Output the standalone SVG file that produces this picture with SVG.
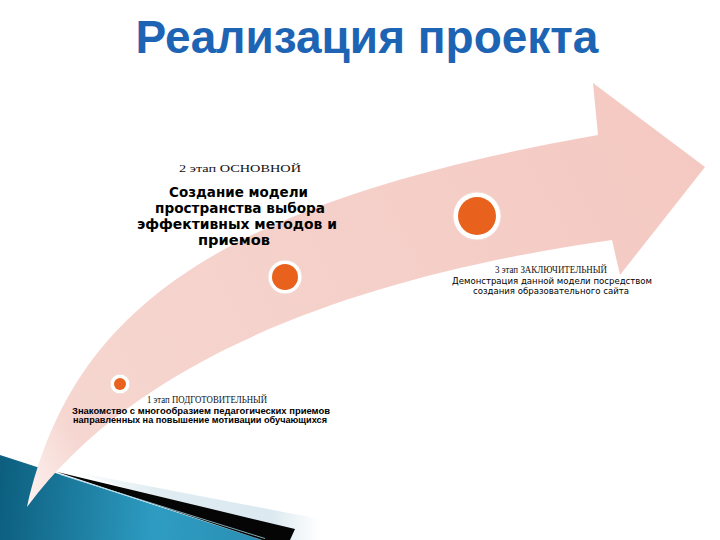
<svg xmlns="http://www.w3.org/2000/svg" width="720" height="540" viewBox="0 0 720 540">
  <defs>
    <linearGradient id="pinkGrad" x1="27" y1="507" x2="700" y2="150" gradientUnits="userSpaceOnUse">
      <stop offset="0" stop-color="#fdf3f1"/>
      <stop offset="0.1" stop-color="#f6d6d0"/>
      <stop offset="1" stop-color="#f4c9c2"/>
    </linearGradient>
    <linearGradient id="tealGrad" x1="0" y1="500" x2="260" y2="520" gradientUnits="userSpaceOnUse">
      <stop offset="0" stop-color="#0c5f7f"/>
      <stop offset="0.6" stop-color="#2e9cc2"/>
      <stop offset="1" stop-color="#2b8fb4"/>
    </linearGradient>
    <linearGradient id="lightGrad" x1="70" y1="0" x2="320" y2="0" gradientUnits="userSpaceOnUse">
      <stop offset="0" stop-color="#ffffff"/>
      <stop offset="0.35" stop-color="#e0ecf2"/>
      <stop offset="0.8" stop-color="#dbe9f0"/>
      <stop offset="1" stop-color="#ffffff"/>
    </linearGradient>
  </defs>
  <style>
    .title { font-family: "Liberation Sans", Arial, sans-serif; font-weight: bold; font-size: 46px; fill: #1d64b4; }
    .stage { font-family: "Liberation Serif", "Times New Roman", serif; fill: #111; }
    .bold { font-family: "DejaVu Sans", Verdana, sans-serif; font-weight: bold; font-size: 14px; fill: #000; }
    .plain { font-family: "DejaVu Sans", Verdana, sans-serif; fill: #000; }
    .bsans { font-family: "Liberation Sans", Arial, sans-serif; font-weight: bold; fill: #000; }
    .ring { fill: #ffffff; stroke: #f3d9cf; stroke-width: 1; }
    .dot { fill: #e8621d; }
  </style>
  <rect width="720" height="540" fill="#ffffff"/>

  <!-- bottom-left decoration -->
  <g id="decor">
    <polygon points="0,455 262,540 0,540" fill="url(#tealGrad)"/>
    <polygon points="75,472 320,519 320,540 290,540" fill="url(#lightGrad)"/>
    <polygon points="45,468 53,471 295,529 290,540 262,540" fill="#050505"/>
    <line x1="60" y1="474.5" x2="265" y2="538.5" stroke="#9fd3e4" stroke-width="0.8"/>
  </g>

  <!-- big curved arrow -->
  <g id="connectors">
    <path d="M27,507 C70,320 200,205 598,135 L593,83 L705,167 L620,275 L612,240 C400,270 150,340 27,507 Z" fill="url(#pinkGrad)"/>
  </g>

  <g id="title">
    <text class="title" x="367" y="53" text-anchor="middle">Реализация проекта</text>
  </g>

  <g id="stage1">
    <circle class="ring" cx="120" cy="384" r="10"/>
    <circle class="dot" cx="120" cy="384" r="6"/>
    <text class="stage" x="207" y="403" font-size="10" text-anchor="middle" textLength="120" lengthAdjust="spacingAndGlyphs">1 этап ПОДГОТОВИТЕЛЬНЫЙ</text>
    <text class="bsans" x="201" y="414" font-size="8.5" text-anchor="middle" textLength="258" lengthAdjust="spacingAndGlyphs">Знакомство с многообразием педагогических приемов</text>
    <text class="bsans" x="200" y="423" font-size="8.5" text-anchor="middle" textLength="254" lengthAdjust="spacingAndGlyphs">направленных на повышение мотивации обучающихся</text>
  </g>

  <g id="stage2">
    <circle class="ring" cx="285" cy="277" r="17"/>
    <circle class="dot" cx="285" cy="277" r="13"/>
    <text class="stage" x="240" y="172" font-size="11" text-anchor="middle" textLength="122" lengthAdjust="spacingAndGlyphs">2 этап ОСНОВНОЙ</text>
    <text class="bold" x="238.5" y="197" text-anchor="middle" textLength="139" lengthAdjust="spacingAndGlyphs">Создание модели</text>
    <text class="bold" x="240" y="213" text-anchor="middle" textLength="170" lengthAdjust="spacingAndGlyphs">пространства выбора</text>
    <text class="bold" x="237" y="229" text-anchor="middle" textLength="200" lengthAdjust="spacingAndGlyphs">эффективных методов и</text>
    <text class="bold" x="234" y="245" text-anchor="middle" textLength="72" lengthAdjust="spacingAndGlyphs">приемов</text>
  </g>

  <g id="stage3">
    <circle class="ring" cx="477" cy="216" r="24"/>
    <circle class="dot" cx="477" cy="216" r="19"/>
    <text class="stage" x="551" y="273" font-size="9.5" text-anchor="middle" textLength="112" lengthAdjust="spacingAndGlyphs">3 этап ЗАКЛЮЧИТЕЛЬНЫЙ</text>
    <text class="plain" x="552" y="284" font-size="9" text-anchor="middle" textLength="200" lengthAdjust="spacingAndGlyphs">Демонстрация данной модели посредством</text>
    <text class="plain" x="551" y="294" font-size="9" text-anchor="middle" textLength="156" lengthAdjust="spacingAndGlyphs">создания образовательного сайта</text>
  </g>
</svg>
